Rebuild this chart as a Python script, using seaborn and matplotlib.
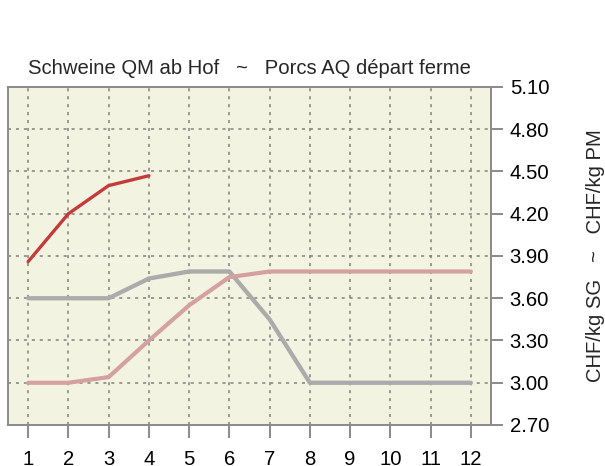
import numpy as np
import pandas as pd
import matplotlib
matplotlib.use("Agg")
import matplotlib.pyplot as plt
import seaborn as sns

# Monthly producer prices, CHF per kg
months = list(range(1, 13))
price_current = [3.86, 4.20, 4.40, 4.47] + [np.nan] * 8
price_prev = [3.60, 3.60, 3.60, 3.74, 3.79, 3.79, 3.45, 3.00, 3.00, 3.00, 3.00, 3.00]
price_prev2 = [3.00, 3.00, 3.04, 3.30, 3.55, 3.75, 3.79, 3.79, 3.79, 3.79, 3.79, 3.79]

y_ticks = [2.70, 3.00, 3.30, 3.60, 3.90, 4.20, 4.50, 4.80, 5.10]
title = "Schweine QM ab Hof   ~   Porcs AQ départ ferme"
ylabel = "CHF/kg SG   ~   CHF/kg PM"

df = pd.DataFrame({
    "month": months,
    "current": price_current,
    "prev": price_prev,
    "prev2": price_prev2,
})

sns.set_theme(style="white")
plt.rcParams["font.family"] = ["Liberation Sans", "DejaVu Sans"]
fs = 14.6

fig = plt.figure(figsize=(6.05, 4.66), dpi=100)
ax = fig.add_axes([8 / 605, 41 / 466, 483 / 605, 338 / 466])
ax.set_facecolor("#F3F3E2")

grid_col = "#808080"
for m in months:
    ax.axvline(m, color=grid_col, lw=1.1, dashes=(2.0, 3.2), zorder=1)
for t in y_ticks[1:-1]:
    ax.axhline(t, color=grid_col, lw=1.1, dashes=(2.0, 3.2), zorder=1)

sns.lineplot(data=df, x="month", y="prev", ax=ax, color="#ABABAB", lw=3.1, zorder=3)
sns.lineplot(data=df, x="month", y="prev2", ax=ax, color="#D4A1A0", lw=3.0, zorder=4)
sns.lineplot(data=df, x="month", y="current", ax=ax, color="#C43B3B", lw=2.4, zorder=5)

ax.set_xlim(0.5, 12.5)
ax.set_ylim(2.70, 5.10)
ax.set_xticks(months)
ax.set_xticklabels([str(m) for m in months])
ax.set_yticks(y_ticks)
ax.set_yticklabels([f"{t:.2f}" for t in y_ticks])
ax.yaxis.tick_right()

frame_col = "#8a8a8a"
for s in ax.spines.values():
    s.set_visible(True)
    s.set_color(frame_col)
    s.set_linewidth(1.4)

ax.tick_params(axis="x", direction="out", length=9.5, width=1.4, color=frame_col,
               pad=8.5, labelsize=fs, labelcolor="black", bottom=True)
ax.tick_params(axis="y", direction="out", length=8.5, width=1.4, color=frame_col,
               pad=5, labelsize=fs, labelcolor="black", right=True, left=False,
               labelright=True, labelleft=False)

ax.set_xlabel("")
ax.set_ylabel(ylabel, fontsize=fs)
ax.yaxis.set_label_position("right")
ax.yaxis.set_label_coords(1.197, 0.5)
ax.set_title(title, fontsize=fs, pad=9)

fig.savefig("out.png", dpi=100, facecolor="white")
